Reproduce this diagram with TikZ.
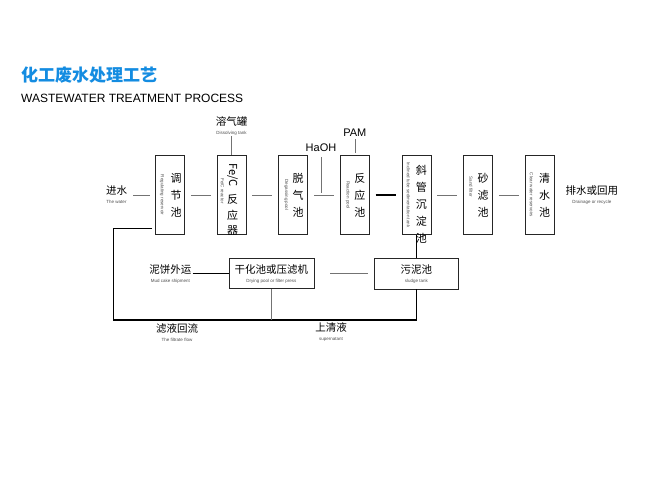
\documentclass[tikz,border=0pt]{standalone}
\usepackage{fontspec}
\setmainfont{Liberation Sans}
\newfontfamily\cjk{Noto Sans CJK SC}
\usetikzlibrary{positioning,calc}
\definecolor{titleblue}{RGB}{20,140,225}
\newcommand{\cn}[1]{{\cjk\fontsize{10.5pt}{12pt}\selectfont #1}}
\newcommand{\en}[1]{{\fontsize{4.5pt}{6pt}\selectfont\color{black!70}#1}}
\tikzset{
  tank/.style={draw=black!85, line width=0.6pt, minimum width=29pt, minimum height=79pt, inner sep=0pt},
  unit/.style={draw=black!85, line width=0.6pt, minimum width=85pt, minimum height=30pt, inner sep=1pt, align=center},
  cnv/.style={font=\cjk\fontsize{11pt}{17pt}\selectfont, align=center, inner sep=0pt},
  env/.style={font=\fontsize{4.5pt}{5pt}\selectfont, text=black!70, rotate=-90, inner sep=0pt},
  tag/.style={align=center, inner sep=1pt},
  flow/.style={draw=black!55, line width=0.6pt},
  mainflow/.style={draw=black, line width=1.2pt}
}
\begin{document}
\begin{tikzpicture}[x=1pt, y=-1pt, node distance=32pt]
  \useasboundingbox (0,0) rectangle (650,500);
  % title
  \node[anchor=west, inner sep=0pt, text=titleblue, font=\cjk\bfseries\fontsize{17pt}{18pt}\selectfont] (title) at (21,75) {化工废水处理工艺};
  \node[anchor=west, inner sep=0pt, font=\fontsize{12pt}{13pt}\selectfont] (subtitle) at (21,98) {WASTEWATER TREATMENT PROCESS};

  % main line of tanks
  \node[tank] (regpool) at (170,195) {};
  \node[tank, right=of regpool] (fecreactor) {};
  \node[tank, right=of fecreactor] (degas) {};
  \node[tank, right=of degas] (reactpool) {};
  \node[tank, right=of reactpool] (settler) {};
  \node[tank, right=of settler] (sandfilter) {};
  \node[tank, right=of sandfilter] (clearpool) {};

  \node[cnv] (regpool-cn) at ([xshift=6pt]regpool.center) {调\\节\\池};
  \node[env] (regpool-en) at ([xshift=-8pt]regpool.center) {Regulating reservoir};
  \node[cnv, rotate=-90] (fec-fe) at ([xshift=1pt, yshift=20pt]fecreactor.center) {Fe/C};
  \node[cnv, font=\cjk\fontsize{11pt}{15.5pt}\selectfont] (fec-cn) at ([xshift=1pt, yshift=-20pt]fecreactor.center) {反\\应\\器};
  \node[env] (fec-en) at ([xshift=-9pt, yshift=4pt]fecreactor.center) {Fe/C reactor};
  \node[cnv] (degas-cn) at ([xshift=5pt]degas.center) {脱\\气\\池};
  \node[env] (degas-en) at ([xshift=-7pt]degas.center) {Degassing pool};
  \node[cnv] (reactpool-cn) at ([xshift=5pt]reactpool.center) {反\\应\\池};
  \node[env] (reactpool-en) at ([xshift=-7pt]reactpool.center) {Reaction pool};
  \node[cnv] (settler-cn) at ([xshift=5pt, yshift=-9pt]settler.center) {斜\\管\\沉\\淀\\池};
  \node[env] (settler-en) at ([xshift=-8pt]settler.center) {Inclined tube sedimentation tank};
  \node[cnv] (sandfilter-cn) at ([xshift=5pt]sandfilter.center) {砂\\滤\\池};
  \node[env] (sandfilter-en) at ([xshift=-7pt, yshift=8pt]sandfilter.center) {Sand filter};
  \node[cnv] (clearpool-cn) at ([xshift=5pt]clearpool.center) {清\\水\\池};
  \node[env] (clearpool-en) at ([xshift=-8pt]clearpool.center) {Clear water reservoirs};

  % labels
  \node[tag, left=27pt of regpool] (inwater) {\cn{进水}\\[-3pt]\en{The water}};
  \node[tag, right=10pt of clearpool] (outlet) {\cn{排水或回用}\\[-3pt]\en{Drainage or recycle}};
  \node[tag, above=19pt of fecreactor] (dissolve) {\cn{溶气罐}\\[-3pt]\en{Dissolving tank}};
  \node[tag, above=18pt of reactpool, font=\fontsize{11pt}{12pt}\selectfont] (pam) {PAM};
  \node[tag, font=\fontsize{11pt}{12pt}\selectfont] (haoh) at (321,148) {HaOH};
  \coordinate (haohjoin) at (haoh |- degas.center);

  % sludge line
  \node[unit, below=23pt of settler, minimum width=84pt, minimum height=31pt] (sludge) {\cn{污泥池}\\[-3pt]\en{sludge tank}};
  \node[unit, left=60pt of sludge] (dryer) {\cn{干化池或压滤机}\\[-3pt]\en{Drying pool or filter press}};
  \node[tag, left=36pt of dryer] (mudcake) {\cn{泥饼外运}\\[-3pt]\en{Mud cake shipment}};
  \node[tag] (filtrate) at (177,333) {\cn{滤液回流}\\[-3pt]\en{The filtrate flow}};
  \node[tag] (supernatant) at (331,332) {\cn{上清液}\\[-3pt]\en{supernatant}};
  \coordinate (retn) at ([xshift=-3pt, yshift=7pt]regpool.south west);
  \coordinate (lowleft) at (113,320);

  % connectors
  \draw[flow, shorten <=5pt, shorten >=5pt] (inwater) -- (regpool);
  \draw[flow, shorten <=6pt, shorten >=6pt] (regpool) -- (fecreactor);
  \draw[flow, shorten <=6pt, shorten >=6pt] (fecreactor) -- (degas);
  \draw[flow, shorten <=6pt, shorten >=6pt] (degas) -- (reactpool);
  \draw[mainflow, shorten <=6pt, shorten >=6pt] (reactpool) -- (settler);
  \draw[flow, shorten <=6pt, shorten >=6pt] (settler) -- (sandfilter);
  \draw[flow, shorten <=6pt, shorten >=6pt] (sandfilter) -- (clearpool);
  \draw[flow] (dissolve) -- (fecreactor);
  \draw[flow, shorten <=2pt, shorten >=2pt] (pam) -- (reactpool);
  \draw[flow, shorten <=4pt, shorten >=2pt] (haoh) -- (haohjoin);
  \draw[flow, draw=black] (settler) -- (sludge);
  \draw[flow, shorten <=16pt, shorten >=6pt] (dryer) -- (sludge);
  \draw[flow, draw=black] (mudcake) -- (dryer);
  \draw[flow, draw=black] (retn) -| (lowleft);
  \draw[mainflow] (lowleft) -| (sludge.south);
  \draw[flow] (dryer.south) -- (dryer.south |- lowleft);
\end{tikzpicture}
\end{document}
